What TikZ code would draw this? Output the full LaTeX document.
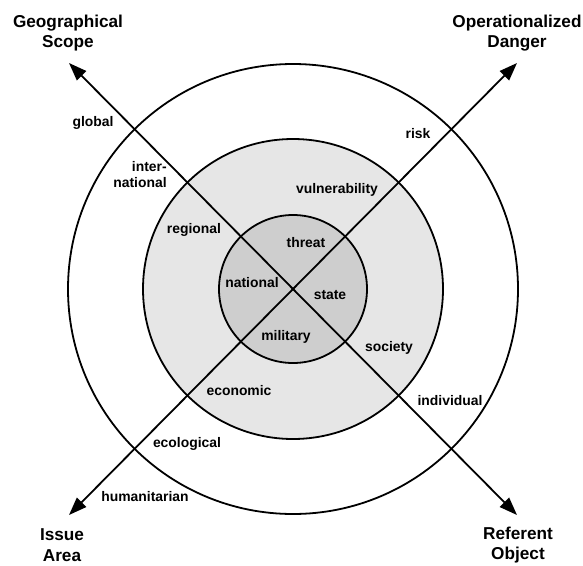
\documentclass[tikz,border=0pt]{standalone}
\usepackage{fontspec}
\setmainfont{Liberation Sans}
\usetikzlibrary{arrows.meta}
\definecolor{ringmid}{HTML}{E6E6E6}
\definecolor{ringin}{HTML}{CECECE}
\begin{document}
\begin{tikzpicture}[x=1pt,y=-1pt,
  ring/.style={draw=black,line width=1.8pt},
  axis/.style={line width=1.8pt,{Triangle[length=18pt,width=13pt]}-{Triangle[length=18pt,width=13pt]}},
  lab/.style={font=\fontsize{13.9}{16}\selectfont\bfseries,inner sep=0pt},
  title/.style={font=\fontsize{17.2}{20.5}\selectfont\bfseries,inner sep=0pt,align=center}]
\useasboundingbox (0,0) rectangle (583,565);
\coordinate (c) at (293,289);
\coordinate (nw) at (69,63);
\coordinate (ne) at (517,63);
\coordinate (sw) at (69,515);
\coordinate (se) at (517,515);
\draw[ring] (c) circle[radius=225pt];
\draw[ring,fill=ringmid] (c) circle[radius=150pt];
\draw[ring,fill=ringin] (c) circle[radius=74pt];
\draw[axis] (nw) -- (se);
\draw[axis] (sw) -- (ne);
\node[title] (geo) at (68,33) {Geographical\\Scope};
\node[title] (op) at (517,33) {Operationalized\\Danger};
\node[title] (iss) at (62,545) {Issue\\Area};
\node[title] (ref) at (518,545) {Referent\\Object};
\node[lab] (global) at (93,123) {global};
\node[lab,align=right] (intl) at (140,175) {inter-\\national};
\node[lab] (regional) at (194,230) {regional};
\node[lab] (national) at (252,283) {national};
\node[lab] (threat) at (306,243) {threat};
\node[lab] (vuln) at (337,190) {vulnerability};
\node[lab] (risk) at (418,134) {risk};
\node[lab] (state) at (330,295) {state};
\node[lab] (military) at (286,337) {military};
\node[lab] (society) at (389,348) {society};
\node[lab] (indiv) at (450,401) {individual};
\node[lab] (econ) at (239,391) {economic};
\node[lab] (ecol) at (187,444) {ecological};
\node[lab] (human) at (145,497) {humanitarian};
\end{tikzpicture}
\end{document}
